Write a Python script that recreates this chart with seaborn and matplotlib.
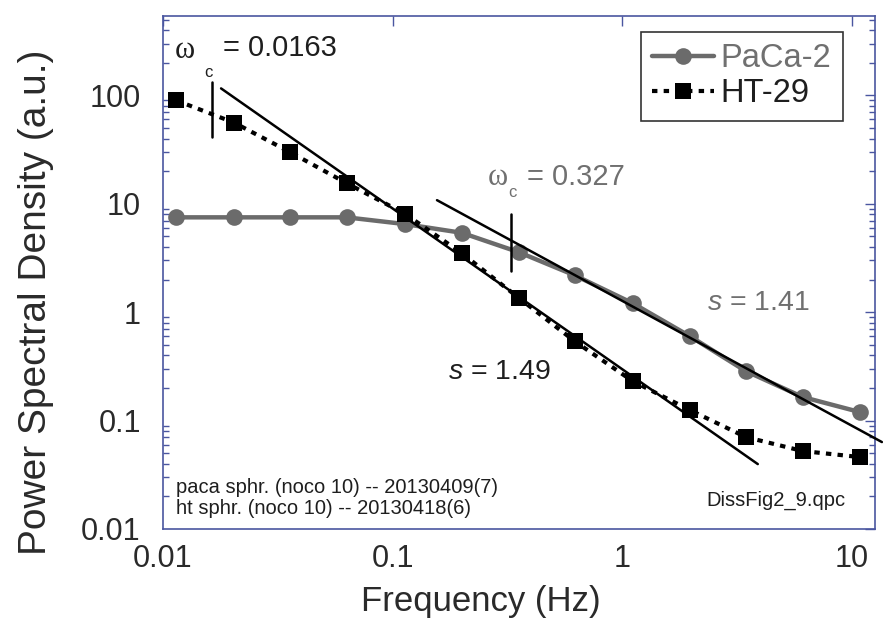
import numpy as np
import pandas as pd
import matplotlib
matplotlib.use("Agg")
import matplotlib.pyplot as plt
import seaborn as sns
from matplotlib.lines import Line2D

# ---------------- data ----------------
freq = [0.0114, 0.0204, 0.0357, 0.063, 0.113, 0.2, 0.355, 0.62, 1.11, 1.97, 3.45, 6.1, 10.8]
paca = [7.5, 7.5, 7.5, 7.5, 6.5, 5.4, 3.57, 2.19, 1.21, 0.60, 0.286, 0.165, 0.12]
ht29 = [90, 56, 30, 15.5, 8.1, 3.5, 1.35, 0.54, 0.231, 0.125, 0.0705, 0.0524, 0.0461]

fit_ht_x = [0.0179, 3.89]
fit_ht_y = [116, 0.0397]
fit_paca_x = [0.156, 13.5]
fit_paca_y = [10.8, 0.0634]

wc_ht = 0.0163
wc_ht_span = [41, 132]
wc_paca = 0.327
wc_paca_span = [2.39, 8.0]

xticks = [0.01, 0.1, 1, 10]
xticklabels = ["0.01", "0.1", "1", "10"]
yticks = [0.01, 0.1, 1, 10, 100]
yticklabels = ["0.01", "0.1", "1", "10", "100"]

# ---------------- style ----------------
sns.set_theme(style="white")
plt.rcParams["font.family"] = ["Liberation Sans", "DejaVu Sans"]
plt.rcParams["mathtext.fontset"] = "custom"
plt.rcParams["mathtext.rm"] = "Liberation Sans"
plt.rcParams["mathtext.it"] = "Liberation Sans:italic"

DARK = "#1e1e1e"
GRAY = "#6b6b6b"
GRAYTXT = "#707070"
SPINE = "#4a56a0"

fig = plt.figure(figsize=(8.83, 6.27), dpi=100)
ax = fig.add_axes([163/883, 1-529/627, (875-163)/883, (529-16)/627])
ax.set_xscale("log")
ax.set_yscale("log")

df_p = pd.DataFrame({"f": freq, "v": paca})
df_h = pd.DataFrame({"f": freq, "v": ht29})

sns.lineplot(data=df_p, x="f", y="v", ax=ax, color=GRAY, linewidth=3.2,
             marker="o", markersize=12, markeredgewidth=0, sort=False,
             errorbar=None, zorder=3)
sns.lineplot(data=df_h, x="f", y="v", ax=ax, color="black", linewidth=3,
             linestyle=(0, (1.3, 1.5)), marker="s", markersize=12,
             markeredgewidth=0, sort=False, errorbar=None, zorder=4)

ax.plot(fit_ht_x, fit_ht_y, color="black", lw=1.8, zorder=5)
ax.plot(fit_paca_x, fit_paca_y, color="black", lw=1.8, zorder=5, clip_on=False)
ax.plot([wc_ht, wc_ht], wc_ht_span, color="black", lw=1.8, zorder=5)
ax.plot([wc_paca, wc_paca], wc_paca_span, color="black", lw=1.8, zorder=5)

ax.set_xlim(0.01, 12.6)
ax.set_ylim(0.01, 540)

ax.set_xticks(xticks)
ax.set_xticklabels(xticklabels)
ax.set_yticks(yticks)
ax.set_yticklabels(yticklabels)
ax.xaxis.set_minor_locator(matplotlib.ticker.NullLocator())
ax.yaxis.set_minor_locator(matplotlib.ticker.LogLocator(base=10, subs=np.arange(2, 10)))
ax.yaxis.set_minor_formatter(matplotlib.ticker.NullFormatter())

ax.tick_params(axis="both", which="major", direction="in", length=7.5, width=1,
               color=SPINE, labelsize=22, labelcolor="#2a2a2a",
               top=True, right=True)
ax.tick_params(axis="y", which="major", pad=16)
ax.tick_params(axis="x", which="major", pad=11)
ax.tick_params(axis="y", which="minor", direction="in", length=4.5, width=1,
               color=SPINE, left=True, right=True)
for s in ax.spines.values():
    s.set_color(SPINE)
    s.set_linewidth(1.2)

ax.set_xlabel("Frequency (Hz)", fontsize=25, color="#2a2a2a")
ax.set_ylabel("Power Spectral Density (a.u.)", fontsize=28, color="#2a2a2a")
ax.xaxis.set_label_coords((481-163)/712, -(585-529)/513)
ax.yaxis.set_label_coords(-(163-54)/712, (529-302)/513)

# annotations
ax.text(0.01247, 262, "\u03c9", fontsize=22, color=DARK, ha="center", va="center",
        family=["Liberation Serif", "DejaVu Serif"])
ax.text(0.0158, 163, "c", fontsize=12, color=DARK, ha="center", va="center")
ax.text(0.0182, 271, "= 0.0163", fontsize=21, color=DARK, ha="left", va="center")

ax.text(0.287, 17.5, "\u03c9", fontsize=22, color=GRAYTXT, ha="center", va="center",
        family=["Liberation Serif", "DejaVu Serif"])
ax.text(0.334, 12.8, "c", fontsize=12, color=GRAYTXT, ha="center", va="center")
ax.text(0.384, 17.5, "= 0.327", fontsize=21, color=GRAYTXT, ha="left", va="center")

ax.text(2.33, 1.21, r"$s$ = 1.41", fontsize=20.5, color=GRAYTXT, ha="left", va="center")
ax.text(0.174, 0.28, r"$s$ = 1.49", fontsize=20.5, color=DARK, ha="left", va="center")

ax.text(0.0114, 0.0244, "paca sphr. (noco 10) -- 20130409(7)", fontsize=14.5,
        color=DARK, ha="left", va="center")
ax.text(0.0114, 0.0153, "ht sphr. (noco 10) -- 20130418(6)", fontsize=14.5,
        color=DARK, ha="left", va="center")
ax.text(2.33, 0.0185, "DissFig2_9.qpc", fontsize=14.5, color=DARK, ha="left", va="center")

handles = [
    Line2D([], [], color=GRAY, lw=3.2, marker="o", markersize=12, markeredgewidth=0),
    Line2D([], [], color="black", lw=3, linestyle=(0, (1.3, 1.5)), marker="s",
           markersize=12, markeredgewidth=0),
]
leg = ax.legend(handles, ["PaCa-2", "HT-29"], loc="upper right",
                bbox_to_anchor=((843-163)/712, 1-(32-16)/513), borderaxespad=0,
                fontsize=23.5, frameon=True, fancybox=False, handlelength=1.9,
                handletextpad=0.2, labelspacing=0.12, borderpad=0.35)
leg.get_frame().set_edgecolor("black")
leg.get_frame().set_linewidth(1.2)
leg.get_texts()[0].set_color(GRAYTXT)
leg.get_texts()[1].set_color(DARK)

fig.savefig("out.png", dpi=100)
